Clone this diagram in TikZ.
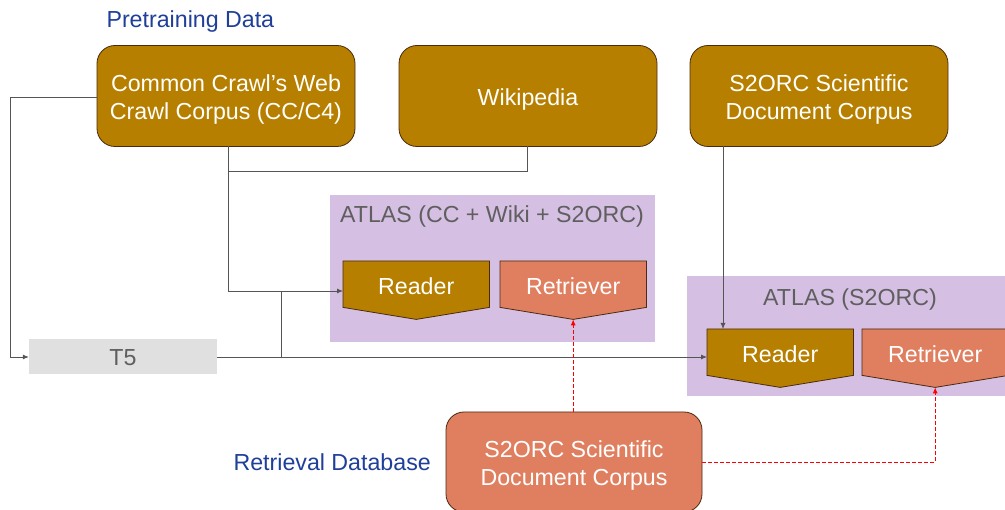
\documentclass[tikz,border=0pt]{standalone}
\usepackage{fontspec}
\setmainfont{Liberation Sans}
\usetikzlibrary{arrows.meta}
\definecolor{gold}{HTML}{B77F00}
\definecolor{salmon}{HTML}{E07F60}
\definecolor{lilac}{HTML}{D5BFE2}
\definecolor{titleblue}{HTML}{1F3F99}
\definecolor{greytext}{HTML}{5F5F5F}
\definecolor{edge}{HTML}{4A2A10}
\definecolor{conn}{HTML}{555555}
\definecolor{tfive}{HTML}{E0E0E0}
\tikzset{
  txt/.style={font=\fontsize{23.2}{28}\selectfont},
  databox/.style={draw=edge, line width=0.8pt, rounded corners=18pt, minimum width=258pt, minimum height=101pt, inner sep=0pt},
  boxtext/.style={txt, text=white, align=center},
  region/.style={fill=lilac, draw=none, inner sep=0pt},
  regiontitle/.style={txt, text=greytext},
  shapebox/.style={minimum width=146pt, minimum height=58pt, inner sep=0pt},
  shapetext/.style={txt, text=white},
  wire/.style={draw=conn, line width=0.8pt},
  arr/.style={wire, -{Latex[length=6pt,width=5pt]}},
  redarr/.style={draw=red, line width=0.9pt, dashed, dash pattern=on 3.5pt off 2.5pt, -{Latex[length=6pt,width=5pt]}},
  heading/.style={txt, text=titleblue, anchor=west},
}
\begin{document}
\begin{tikzpicture}[x=1pt,y=-1pt]
\useasboundingbox (0,0) rectangle (1005,510);
\fill[white] (0,0) rectangle (1005,510);

% headings
\node[heading] (hpre) at (103,22) {Pretraining Data};
\node[heading] (hret) at (230,462) {Retrieval Database};

% data boxes
\node[databox, fill=gold] (cc) at (226,96) {};
\node[boxtext] (cct) at ([yshift=-3.5pt]cc.center) {Common Crawl’s Web\\Crawl Corpus (CC/C4)};
\node[databox, fill=gold] (wiki) at (528,96) {};
\node[boxtext] (wikit) at ([yshift=-4pt]wiki.center) {Wikipedia};
\node[databox, fill=gold] (s2top) at (819,96) {};
\node[boxtext] (s2topt) at ([yshift=-3.5pt]s2top.center) {S2ORC Scientific\\Document Corpus};
\node[databox, fill=salmon, minimum width=256pt, minimum height=100pt] (s2bot) at (574,462) {};
\node[boxtext] (s2bott) at ([yshift=-3.5pt]s2bot.center) {S2ORC Scientific\\Document Corpus};

% ATLAS regions
\node[region, minimum width=325pt, minimum height=147pt, anchor=north west] (atlas1) at (330,195) {};
\node[regiontitle] (atlas1t) at (492,216) {ATLAS (CC + Wiki + S2ORC)};
\node[region, minimum width=320pt, minimum height=120pt, anchor=north west] (atlas2) at (687,276) {};
\node[regiontitle] (atlas2t) at (850,299) {ATLAS (S2ORC)};

% T5
\node[fill=tfive, minimum width=188pt, minimum height=35pt, inner sep=0pt] (t5) at (123,356.5) {};
\node[txt, text=greytext] (t5t) at ([yshift=-1pt]t5.center) {T5};

% reader / retriever shapes
\node[shapebox, anchor=north west] (rd1) at (343,261) {};
\node[shapebox, anchor=north west] (rt1) at (500,261) {};
\node[shapebox, anchor=north west] (rd2) at (707,329) {};
\node[shapebox, anchor=north west] (rt2) at (862,329) {};
\foreach \n/\c in {rd1/gold, rt1/salmon, rd2/gold, rt2/salmon}{
  \filldraw[fill=\c, draw=edge, line width=0.8pt]
    (\n.north west) -- (\n.north east) -- ([yshift=12pt]\n.south east) -- (\n.south) -- ([yshift=12pt]\n.south west) -- cycle;
}
\node[shapetext] (rd1t) at ([yshift=4pt]rd1.center) {Reader};
\node[shapetext] (rt1t) at ([yshift=4pt]rt1.center) {Retriever};
\node[shapetext] (rd2t) at ([yshift=4pt]rd2.center) {Reader};
\node[shapetext] (rt2t) at ([yshift=4pt]rt2.center) {Retriever};

% connectors
\coordinate (ccleft) at (cc.west |- 0,97);
\draw[arr] (ccleft) -| (10,357) -- (t5.west |- 0,357);
\coordinate (ccdown) at (228,146);
\coordinate (rd1in) at (rd1.west |- 0,291);
\draw[arr] (ccdown) |- (rd1in);
\coordinate (wikidown) at (527,146);
\draw[wire] (wikidown) |- (228,171);
\coordinate (t5right) at (t5.east |- 0,357);
\draw[wire] (t5right) -- (281,357) -- (281,291);
\coordinate (rd2in) at (rd2.west |- 0,357);
\draw[arr] (t5right) -- (rd2in);
\coordinate (s2topdown) at (723,146);
\draw[arr] (s2topdown) -- (723,329);

\draw[redarr] (s2bot.north -| rt1.south) -- (rt1.south);
\coordinate (s2right) at (s2bot.east);
\draw[redarr] (s2right) -| (rt2.south);
\end{tikzpicture}
\end{document}
